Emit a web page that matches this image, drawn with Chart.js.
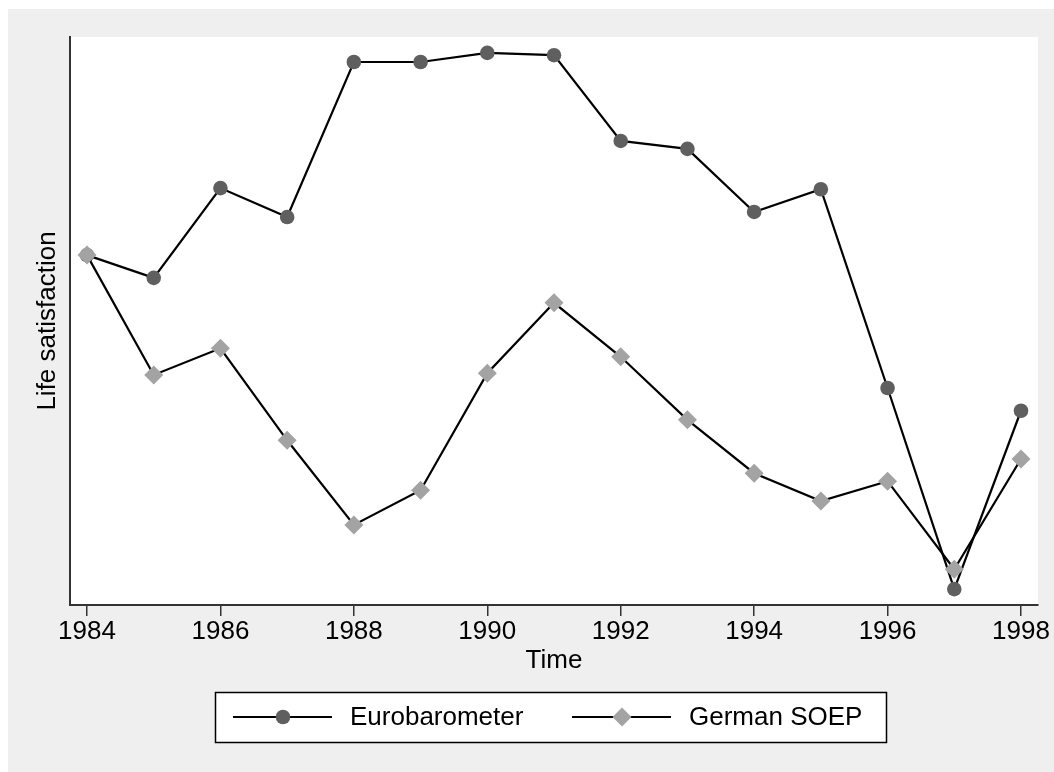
<!DOCTYPE html>
<html>
<head>
<meta charset="utf-8">
<script src="https://cdn.jsdelivr.net/npm/chart.js@4"></script>
<style>
  body { margin: 0; background: #fff; }
  canvas { display: block; }
</style>
</head>
<body>
<canvas id="lifeChart" width="1054" height="772"></canvas>
<script>
// years on the x axis
const years = [1984, 1985, 1986, 1987, 1988, 1989, 1990, 1991, 1992, 1993, 1994, 1995, 1996, 1997, 1998];
const tickYears = [1984, 1986, 1988, 1990, 1992, 1994, 1996, 1998];

// life satisfaction (no scale shown, index 0-100)
const eurobarometer = [61.6, 57.6, 73.4, 68.3, 95.6, 95.6, 97.2, 96.8, 81.7, 80.3, 69.2, 73.2, 38.2, 2.8, 34.2];
const germanSoep = [61.6, 40.5, 45.2, 29.0, 14.1, 20.2, 40.8, 53.2, 43.7, 32.6, 23.2, 18.3, 21.8, 6.3, 25.7];

const seriesNames = ["Eurobarometer", "German SOEP"];

const FONT = "'Liberation Sans', Arial, Helvetica, sans-serif";

function toPoints(vals) {
    return years.map((y, i) => ({ x: y, y: vals[i] }));
}

// grey page + white plot region, legend box at the bottom
const stataLook = {
    id: 'stataLook',
    beforeDraw(chart) {
        const ctx = chart.ctx;
        const a = chart.chartArea;
        ctx.save();
        ctx.fillStyle = '#fff';
        ctx.fillRect(0, 0, chart.width, chart.height);
        ctx.fillStyle = '#efefef';
        ctx.fillRect(8, 9, chart.width - 8, chart.height - 9);
        ctx.fillStyle = '#fff';
        ctx.fillRect(a.left, a.top, a.right - a.left, a.bottom - a.top);
        ctx.restore();
    },
    afterDraw(chart) {
        const ctx = chart.ctx;
        ctx.save();
        // legend box
        ctx.fillStyle = '#fff';
        ctx.fillRect(215, 692, 671, 51);
        ctx.strokeStyle = '#000';
        ctx.lineWidth = 1.5;
        ctx.strokeRect(215.5, 692.5, 671, 50);

        const cy = 717;
        const items = [
            { x0: 233, ds: chart.data.datasets[1] },
            { x0: 572, ds: chart.data.datasets[0] }
        ];
        items.forEach(it => {
            ctx.strokeStyle = '#000';
            ctx.lineWidth = 2.2;
            ctx.beginPath();
            ctx.moveTo(it.x0, cy);
            ctx.lineTo(it.x0 + 99, cy);
            ctx.stroke();
            ctx.fillStyle = it.ds.pointBackgroundColor;
            ctx.beginPath();
            const r = it.ds.pointRadius;
            if (it.ds.pointStyle === 'circle') {
                ctx.arc(it.x0 + 50, cy, r, 0, Math.PI * 2);
            } else {
                ctx.moveTo(it.x0 + 50 - r, cy);
                ctx.lineTo(it.x0 + 50, cy - r);
                ctx.lineTo(it.x0 + 50 + r, cy);
                ctx.lineTo(it.x0 + 50, cy + r);
                ctx.closePath();
            }
            ctx.fill();
            ctx.fillStyle = '#000';
            ctx.font = '26px ' + FONT;
            ctx.textBaseline = 'middle';
            ctx.textAlign = 'left';
            ctx.fillText(it.ds.label, it.x0 + 117, cy + 1);
        });
        ctx.restore();
    }
};

const ctx = document.getElementById('lifeChart').getContext('2d');
const lifeChart = new Chart(ctx, {
    type: 'line',
    data: {
        datasets: [
            {
                label: seriesNames[1],
                data: toPoints(germanSoep),
                borderColor: '#000',
                borderWidth: 2.2,
                pointStyle: 'rectRot',
                pointRadius: 9.5,
                pointBackgroundColor: '#a3a3a3',
                pointBorderColor: '#a3a3a3',
                pointBorderWidth: 0,
                tension: 0,
                order: 0
            },
            {
                label: seriesNames[0],
                data: toPoints(eurobarometer),
                borderColor: '#000',
                borderWidth: 2.2,
                pointStyle: 'circle',
                pointRadius: 7.3,
                pointBackgroundColor: '#5f5f5f',
                pointBorderColor: '#5f5f5f',
                pointBorderWidth: 0,
                tension: 0,
                order: 1
            }
        ]
    },
    options: {
        responsive: false,
        animation: false,
        events: [],
        layout: { padding: { left: 0, top: 37, right: 16, bottom: 96 } },
        plugins: {
            legend: { display: false },
            tooltip: { enabled: false }
        },
        scales: {
            x: {
                type: 'linear',
                min: 1983.745,
                max: 1998.255,
                afterFit(scale) { scale.height = 71; },
                afterBuildTicks(scale) {
                    scale.ticks = tickYears.map(v => ({ value: v }));
                },
                grid: {
                    display: true,
                    drawOnChartArea: false,
                    drawTicks: true,
                    tickLength: 11,
                    color: '#333',
                    lineWidth: 1.5
                },
                border: { display: true, color: '#333', width: 2 },
                ticks: {
                    color: '#000',
                    padding: 0,
                    maxRotation: 0,
                    autoSkip: false,
                    font: { family: FONT, size: 26 },
                    callback: v => String(v)
                },
                title: {
                    display: true,
                    text: 'Time',
                    color: '#000',
                    padding: { top: 0, bottom: 0 },
                    font: { family: FONT, size: 26 }
                }
            },
            y: {
                min: 0,
                max: 100,
                afterFit(scale) { scale.width = 70; },
                grid: { display: false },
                border: { display: true, color: '#333', width: 2 },
                ticks: { display: false },
                title: {
                    display: true,
                    text: 'Life satisfaction',
                    color: '#000',
                    padding: { top: 32, bottom: 0 },
                    font: { family: FONT, size: 26 }
                }
            }
        }
    },
    plugins: [stataLook]
});
</script>
</body>
</html>
